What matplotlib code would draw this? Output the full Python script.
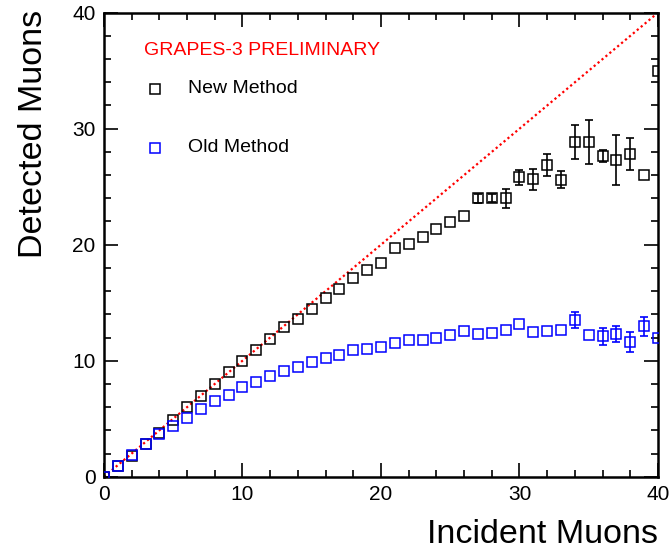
import matplotlib
matplotlib.use("Agg")
import matplotlib.pyplot as plt
import numpy as np
from matplotlib.ticker import MultipleLocator

plt.rcParams['font.family'] = ['Liberation Sans', 'DejaVu Sans']

incident = list(range(41))
new_method = [0.0, 0.95, 1.75, 2.8, 3.75, 4.9, 5.97, 7.0, 8.0, 9.0, 10.0,
              10.95, 11.9, 12.87, 13.6, 14.45, 15.4, 16.2, 17.1, 17.8, 18.4,
              19.72, 20.1, 20.7, 21.35, 21.95, 22.45, 24.0, 24.0, 24.0, 25.8,
              25.65, 26.9, 25.6, 28.85, 28.85, 27.65, 27.3, 27.8, 26.0, 35.0]
new_err = [0]*27 + [0.4, 0.35, 0.83, 0.67, 0.9, 0.95, 0.72, 1.47, 1.93,
                    0.55, 2.13, 1.37, 0, 0]
old_method = [0.0, 0.95, 1.85, 2.8, 3.7, 4.4, 5.1, 5.86, 6.5, 7.07, 7.7,
              8.19, 8.65, 9.14, 9.48, 9.9, 10.2, 10.5, 10.95, 11.0, 11.2,
              11.5, 11.78, 11.78, 12.0, 12.2, 12.56, 12.3, 12.36, 12.64, 13.16,
              12.5, 12.56, 12.64, 13.53, 12.24, 12.1, 12.3, 11.64, 12.96, 11.96]
old_err = [0]*34 + [0.7, 0, 0.72, 0.72, 0.85, 0.82, 0]

fig = plt.figure(figsize=(6.71, 5.56), dpi=100)
ax = fig.add_axes([0.155, 0.1426, 0.8256, 0.8346])

ax.plot([0, 40], [0, 40], color='red', linestyle=(0, (1.0, 1.3)), lw=1.6, zorder=1)

x = np.array(incident)
for vals, errs, col in [(new_method, new_err, 'black'), (old_method, old_err, 'blue')]:
    v = np.array(vals); e = np.array(errs, dtype=float)
    m = e > 0
    ax.errorbar(x[m], v[m], yerr=e[m], fmt='none', ecolor=col, elinewidth=1.2,
                capsize=3, capthick=1.2, zorder=2)
    ax.plot(x, v, linestyle='none', marker='s', markersize=7.5, markerfacecolor='none',
            markeredgecolor=col, markeredgewidth=1.1, zorder=3)

ax.set_xlim(0, 40)
ax.set_ylim(0, 40)
ax.xaxis.set_major_locator(MultipleLocator(10))
ax.xaxis.set_minor_locator(MultipleLocator(2))
ax.yaxis.set_major_locator(MultipleLocator(10))
ax.yaxis.set_minor_locator(MultipleLocator(2))
ax.tick_params(which='both', direction='in', top=True, right=True, width=1.2,
               labelsize=15, colors='black')
ax.tick_params(which='major', length=10, pad=6)
ax.tick_params(which='minor', length=5)
for s in ax.spines.values():
    s.set_linewidth(1.8)

ax.set_xlabel('Incident Muons', fontsize=24.5, loc='right', labelpad=11)
ax.set_ylabel('Detected Muons', fontsize=24.5, loc='top', labelpad=17)
ax.yaxis.label.set_y(1.005)

ax.text(0.072, 0.918, 'GRAPES-3 PRELIMINARY', color='red', fontsize=14,
        transform=ax.transAxes, va='center', ha='left')
ax.plot([0.092], [0.836], transform=ax.transAxes, marker='s', markersize=7.5,
        markerfacecolor='none', markeredgecolor='black', markeredgewidth=1.1, clip_on=False)
ax.text(0.151, 0.836, 'New Method', fontsize=14, transform=ax.transAxes, va='center', ha='left')
ax.plot([0.092], [0.709], transform=ax.transAxes, marker='s', markersize=7.5,
        markerfacecolor='none', markeredgecolor='blue', markeredgewidth=1.1, clip_on=False)
ax.text(0.151, 0.709, 'Old Method', fontsize=14, transform=ax.transAxes, va='center', ha='left')

fig.savefig('out.png', dpi=100)
